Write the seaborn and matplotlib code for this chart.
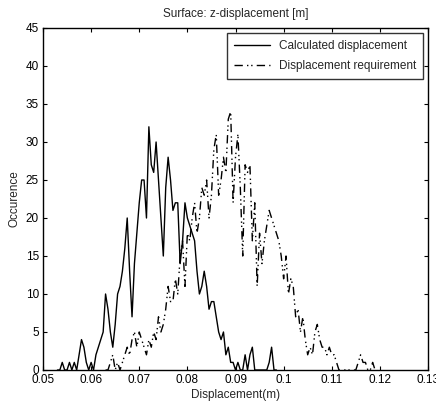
import numpy as np
import pandas as pd
import matplotlib
matplotlib.use("Agg")
import matplotlib.pyplot as plt
import seaborn as sns

# ---- data ----
calc_start = 0.0530
calc_counts = [0, 0, 1, 0, 0, 1, 0, 1, 0, 2,
               4, 3, 1, 0, 1, 0, 2, 3, 4, 5,
               10, 8, 5, 3, 6, 10, 11, 13, 16, 20,
               13, 7, 14, 18, 22, 25, 25, 20, 32, 27,
               26, 30, 25, 20, 15, 24, 28, 25, 21, 22,
               22, 14, 17, 22, 20, 19, 18, 17, 13, 10,
               11, 13, 11, 8, 9, 9, 7, 5, 4, 5,
               2, 3, 1, 1, 0, 1, 0, 0, 2, 0,
               2, 3, 0, 0, 0, 0, 0, 0, 1, 3,
               0, 0]
req_start = 0.0630
req_counts = [0, 0, 1, 2, 0, 1, 0, 1, 2, 3,
              2, 4, 5, 3, 5, 4, 3, 2, 4, 3,
              5, 4, 7, 5, 6, 8, 11, 9, 9, 12,
              10, 15, 17, 11, 18, 17, 20, 22, 18, 20,
              24, 23, 25, 20, 23, 29, 31, 23, 25, 28,
              26, 33, 34, 22, 28, 31, 24, 15, 27, 26,
              27, 17, 22, 11, 18, 14, 17, 19, 21, 20,
              19, 18, 17, 15, 12, 15, 10, 12, 11, 7,
              8, 5, 7, 4, 2, 3, 2, 5, 6, 4,
              3, 3, 2, 3, 2, 2, 1, 0, 0, 0,
              0, 0, 0, 0, 0, 1, 2, 1, 1, 0,
              0, 1, 0, 0]
step = 0.0005
x_ticks = [0.05, 0.06, 0.07, 0.08, 0.09, 0.10, 0.11, 0.12, 0.13]
x_tick_labels = ["0.05", "0.06", "0.07", "0.08", "0.09", "0.1", "0.11", "0.12", "0.13"]
y_ticks = [0, 5, 10, 15, 20, 25, 30, 35, 40, 45]
labels = ["Calculated displacement", "Displacement requirement"]

calc_x = calc_start + step * np.arange(len(calc_counts))
req_x = req_start + step * np.arange(len(req_counts))
df_calc = pd.DataFrame({"x": calc_x, "y": calc_counts})
df_req = pd.DataFrame({"x": req_x, "y": req_counts})

sns.set_style("ticks")
plt.rcParams["font.family"] = ["Liberation Sans Narrow", "Liberation Sans", "DejaVu Sans"]
plt.rcParams["xtick.direction"] = "in"
plt.rcParams["ytick.direction"] = "in"

fig = plt.figure(figsize=(4.36, 4.08), dpi=100)
ax = fig.add_axes([43/436, 38/408, 385/436, 342/408])

sns.lineplot(data=df_calc, x="x", y="y", ax=ax, color="black", linewidth=1.0,
             label=labels[0])
sns.lineplot(data=df_req, x="x", y="y", ax=ax, color="black", linewidth=1.0,
             linestyle=(0, (6, 3, 1, 2, 1, 3)), label=labels[1])

ax.set_xlim(0.05, 0.13)
ax.set_ylim(0, 45)
ax.set_xticks(x_ticks)
ax.set_xticklabels(x_tick_labels)
ax.set_yticks(y_ticks)
ax.tick_params(axis="both", labelsize=8.5, length=3, width=0.8, top=True, right=True,
               colors="black")
ax.tick_params(axis="x", pad=3)
ax.tick_params(axis="y", pad=3)
for s in ax.spines.values():
    s.set_visible(True)
    s.set_linewidth(1.0)
    s.set_color("black")

ax.set_title("Surface: z-displacement [m]", fontsize=8.5, pad=8)
ax.set_xlabel("Displacement(m)", fontsize=8.5, labelpad=2)
ax.set_ylabel("Occurence", fontsize=8.5, labelpad=4)

leg = ax.legend(loc="upper right", fontsize=8.5, frameon=True, fancybox=False,
                edgecolor="black", borderaxespad=0.4, handlelength=3.0,
                labelspacing=0.7, borderpad=0.6)
leg.get_frame().set_linewidth(1.0)

fig.savefig("out.png", dpi=100)
